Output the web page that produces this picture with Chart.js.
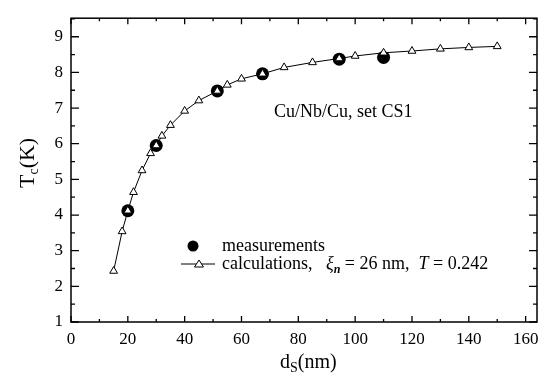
<!DOCTYPE html>
<html>
<head>
<meta charset="utf-8">
<script src="https://cdn.jsdelivr.net/npm/chart.js@4.4.1/dist/chart.umd.min.js"></script>
<style>
  html, body { margin: 0; padding: 0; background: #fff; }
  #wrap { width: 556px; height: 383px; }
</style>
</head>
<body>
<div id="wrap"><canvas id="tcChart"></canvas></div>
<script>
// calculated Tc curve (triangles)
const dsCalc = [15, 18, 20, 22, 25, 28, 30, 32, 35, 40, 45, 51.5, 55, 60, 67.4, 75, 85, 94.4, 100, 110, 120, 130, 140, 150];
const tcCalc = [2.43, 3.54, 4.12, 4.64, 5.25, 5.73, 5.95, 6.22, 6.52, 6.92, 7.21, 7.48, 7.65, 7.82, 7.96, 8.14, 8.28, 8.39, 8.46, 8.55, 8.60, 8.66, 8.70, 8.73];
// measured Tc (black dots)
const dsMeas = [20, 30, 51.5, 67.4, 94.4, 110];
const tcMeas = [4.12, 5.95, 7.48, 7.96, 8.37, 8.42];

const xTicks = [0, 20, 40, 60, 80, 100, 120, 140, 160];
const xMinor = [10, 30, 50, 70, 90, 110, 130, 150];
const yTicks = [1, 2, 3, 4, 5, 6, 7, 8, 9];
const yMinor = [1.5, 2.5, 3.5, 4.5, 5.5, 6.5, 7.5, 8.5, 9.5];

const serif = '"Liberation Serif", "DejaVu Serif", serif';

const toPoints = (xs, ys) => xs.map((x, i) => ({ x: x, y: ys[i] }));

// frame, inward ticks, titles, legend, label
const framePlugin = {
    id: 'frame',
    afterDraw(chart) {
        const ctx = chart.ctx;
        const a = chart.chartArea;
        const xs = chart.scales.x, ys = chart.scales.y;
        ctx.save();
        ctx.strokeStyle = '#000';
        ctx.lineWidth = 1.5;
        ctx.strokeRect(a.left, a.top, a.right - a.left, a.bottom - a.top);

        ctx.lineWidth = 1.3;
        ctx.beginPath();
        const xt = (v, len) => {
            const p = xs.getPixelForValue(v);
            ctx.moveTo(p, a.bottom); ctx.lineTo(p, a.bottom - len);
            ctx.moveTo(p, a.top); ctx.lineTo(p, a.top + len);
        };
        const yt = (v, len) => {
            const p = ys.getPixelForValue(v);
            ctx.moveTo(a.left, p); ctx.lineTo(a.left + len, p);
            ctx.moveTo(a.right, p); ctx.lineTo(a.right - len, p);
        };
        xTicks.forEach(v => xt(v, 6));
        xMinor.forEach(v => xt(v, 3));
        yTicks.forEach(v => yt(v, 8));
        yMinor.forEach(v => yt(v, 4));
        ctx.stroke();

        ctx.fillStyle = '#000';
        // annotation
        ctx.font = '18px ' + serif;
        ctx.textBaseline = 'middle';
        ctx.textAlign = 'left';
        ctx.fillText('Cu/Nb/Cu, set CS1', 274, 112);

        // x title
        ctx.font = '20px ' + serif;
        ctx.textBaseline = 'alphabetic';
        let x0 = 280, yb = 368;
        ctx.fillText('d', x0, yb);
        x0 += ctx.measureText('d').width;
        ctx.font = '14px ' + serif;
        ctx.fillText('S', x0, yb + 4);
        x0 += ctx.measureText('S').width;
        ctx.font = '20px ' + serif;
        ctx.fillText('(nm)', x0, yb);

        // y title
        ctx.save();
        ctx.translate(34, 188);
        ctx.rotate(-Math.PI / 2);
        ctx.font = '22px ' + serif;
        let t0 = 0;
        ctx.fillText('T', t0, 0);
        t0 += ctx.measureText('T').width;
        ctx.font = '14px ' + serif;
        ctx.fillText('c', t0, 4);
        t0 += ctx.measureText('c').width;
        ctx.font = '22px ' + serif;
        ctx.fillText('(K)', t0, 0);
        ctx.restore();

        // legend
        ctx.beginPath();
        ctx.arc(193, 246, 5.5, 0, Math.PI * 2);
        ctx.fill();
        ctx.font = '18px ' + serif;
        ctx.textBaseline = 'alphabetic';
        ctx.fillText('measurements', 222, 251);

        ctx.lineWidth = 1;
        ctx.beginPath();
        ctx.moveTo(181, 264); ctx.lineTo(215, 264);
        ctx.stroke();
        ctx.beginPath();
        ctx.moveTo(199, 260); ctx.lineTo(203.5, 267); ctx.lineTo(194.5, 267); ctx.closePath();
        ctx.fillStyle = '#fff';
        ctx.fill();
        ctx.stroke();
        ctx.fillStyle = '#000';
        let lx = 222; const lb = 269;
        const put = (txt, font, dy) => {
            ctx.font = font;
            ctx.fillText(txt, lx, lb + (dy || 0));
            lx += ctx.measureText(txt).width;
        };
        put('calculations,   ', '18px ' + serif);
        put('\u03BE', 'italic 18px ' + serif);
        put('n', 'italic bold 12px ' + serif, 4);
        put(' = 26 nm,  ', '18px ' + serif);
        put('T', 'italic 18px ' + serif);
        put(' = 0.242', '18px ' + serif);
        ctx.restore();
    }
};

new Chart(document.getElementById('tcChart'), {
    type: 'scatter',
    data: {
        datasets: [{
            label: 'calculations',
            data: toPoints(dsCalc, tcCalc),
            showLine: true,
            borderColor: '#000',
            borderWidth: 1,
            pointStyle: 'triangle',
            pointRadius: 4.5,
            pointBackgroundColor: '#fff',
            pointBorderColor: '#000',
            pointBorderWidth: 1,
            order: 0
        }, {
            label: 'measurements',
            data: toPoints(dsMeas, tcMeas),
            showLine: false,
            pointStyle: 'circle',
            pointRadius: 6.5,
            pointBackgroundColor: '#000',
            pointBorderColor: '#000',
            pointBorderWidth: 0,
            order: 1
        }]
    },
    options: {
        responsive: true,
        maintainAspectRatio: false,
        animation: false,
        layout: { padding: { top: 1, right: 19, left: 0, bottom: 0 } },
        scales: {
            x: {
                type: 'linear',
                min: 0,
                max: 164,
                afterBuildTicks: s => { s.ticks = xTicks.map(v => ({ value: v })); },
                afterFit: s => { s.height = 61; },
                grid: { display: false, drawTicks: false },
                border: { display: false },
                ticks: { color: '#000', padding: 7, font: { family: serif, size: 17 } }
            },
            y: {
                type: 'linear',
                min: 1,
                max: 9.52,
                afterBuildTicks: s => { s.ticks = yTicks.map(v => ({ value: v })); },
                afterFit: s => { s.width = 71; },
                grid: { display: false, drawTicks: false },
                border: { display: false },
                ticks: { color: '#000', padding: 8, font: { family: serif, size: 17 } }
            }
        },
        plugins: {
            legend: { display: false },
            tooltip: { enabled: false }
        }
    },
    plugins: [framePlugin]
});
</script>
</body>
</html>
